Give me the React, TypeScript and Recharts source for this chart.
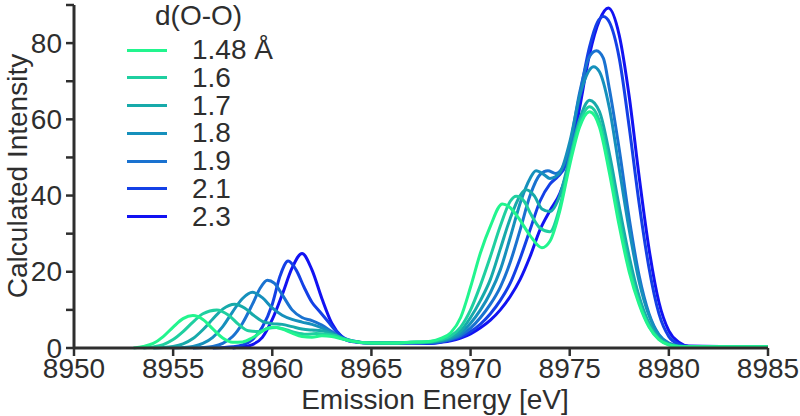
import React from 'react';
import { LineChart, Line, XAxis, YAxis, Legend } from 'recharts';

type Pt = [number, number];

const FONT = '"Liberation Sans", Arial, Helvetica, sans-serif';
const INK = '#2e2e2e';

// d(O-O) in Å
const labels = ['1.48 Å', '1.6', '1.7', '1.8', '1.9', '2.1', '2.3'];
const colors = ['#22F58E', '#1FCFA0', '#17AAAA', '#1690BC', '#1A72D0', '#1440E6', '#1212F2'];

// [energy eV, intensity]
const s148: Pt[] = [
  [8953, 0], [8953.5, 0.4], [8954, 1.2], [8954.5, 3], [8955, 5.5], [8955.5, 7.7], [8956, 8.5],
  [8956.5, 7.5], [8957, 5], [8957.5, 2.6], [8958, 1.5], [8958.5, 1.6], [8959, 2.7], [8959.5, 4.4],
  [8960, 5.5], [8960.5, 5], [8961, 3.9], [8961.5, 3], [8962, 2.8], [8962.5, 3.2], [8963, 3],
  [8963.5, 2.4], [8964, 1.8], [8965, 1.3], [8966, 1.3], [8967, 1.5], [8968, 1.8], [8968.5, 2.5],
  [8969, 4], [8969.5, 8], [8970, 16], [8970.5, 25], [8971, 32], [8971.6, 37.8], [8972, 36.8],
  [8972.5, 33.5], [8973, 29.5], [8973.6, 26.3], [8974, 28], [8974.5, 36], [8975, 48], [8975.5, 58],
  [8976, 62], [8976.5, 58], [8977, 46], [8977.5, 32], [8978, 20], [8978.5, 11.5], [8979, 5.5],
  [8979.5, 2.2], [8980, 0.8], [8980.5, 0.4], [8981, 0.3], [8985, 0.3],
];
const s16: Pt[] = [
  [8953.5, 0], [8954, 0.3], [8954.5, 0.9], [8955, 2.2], [8955.5, 4.3], [8956, 6.8], [8956.5, 9],
  [8957.2, 10], [8957.8, 8.6], [8958.3, 6.2], [8958.8, 4.5], [8959.3, 4.3], [8959.8, 5.2],
  [8960.2, 5.4], [8960.7, 4.8], [8961.2, 4], [8961.7, 3.6], [8962.2, 3.8], [8962.7, 3.7],
  [8963.2, 3.2], [8963.7, 2.3], [8964.2, 1.7], [8965, 1.3], [8966, 1.3], [8967, 1.5], [8968, 1.7],
  [8968.5, 2.2], [8969, 3.2], [8969.5, 5.5], [8970, 10], [8970.5, 16.5], [8971, 24], [8971.5, 32],
  [8972, 38.5], [8972.3, 39.8], [8972.7, 38.5], [8973, 35.5], [8973.5, 31.5], [8974, 30.5],
  [8974.5, 37], [8975, 49], [8975.5, 59], [8976, 63.3], [8976.5, 59.5], [8977, 48], [8977.5, 34],
  [8978, 21.5], [8978.5, 12], [8979, 5.7], [8979.5, 2.3], [8980, 0.9], [8980.5, 0.4], [8981, 0.3],
  [8985, 0.3],
];
const s17: Pt[] = [
  [8954, 0], [8954.5, 0.1], [8955, 0.4], [8955.5, 1.1], [8956, 2.5], [8956.5, 4.8], [8957, 7.6],
  [8957.5, 10.2], [8958.1, 11.5], [8958.6, 10.5], [8959, 8.8], [8959.5, 7], [8960, 6.4],
  [8960.5, 6.2], [8961, 5.6], [8961.5, 5], [8962, 4.7], [8962.5, 4.5], [8963, 3.7], [8963.5, 2.5],
  [8964, 1.8], [8965, 1.3], [8966, 1.3], [8967, 1.5], [8968, 1.6], [8968.5, 2], [8969, 2.8],
  [8969.5, 4.5], [8970, 8], [8970.5, 12.5], [8971, 18], [8971.5, 26], [8972, 34], [8972.5, 40],
  [8972.8, 41.5], [8973.2, 40], [8973.6, 36.5], [8974, 35.8], [8974.5, 40], [8975, 50],
  [8975.5, 60], [8976, 65], [8976.5, 62], [8977, 51], [8977.5, 37], [8978, 24], [8978.5, 13.5],
  [8979, 6.5], [8979.5, 2.6], [8980, 1], [8980.5, 0.4], [8981, 0.3], [8985, 0.3],
];
const s18: Pt[] = [
  [8955, 0], [8955.5, 0.1], [8956, 0.4], [8956.5, 1.2], [8957, 2.8], [8957.5, 5.6], [8958, 9.5],
  [8958.5, 13], [8959, 14.6], [8959.5, 13.2], [8960, 10.5], [8960.5, 8.6], [8961, 7.5],
  [8961.5, 6.8], [8962, 6.2], [8962.5, 5.3], [8963, 4], [8963.5, 2.6], [8964, 1.8], [8965, 1.3],
  [8966, 1.3], [8967, 1.4], [8968, 1.5], [8968.5, 1.8], [8969, 2.5], [8969.5, 3.8], [8970, 6.5],
  [8970.5, 10], [8971, 14.5], [8971.5, 20.5], [8972, 29], [8972.5, 38], [8973, 44.5],
  [8973.3, 46.5], [8973.7, 45.5], [8974, 44.5], [8974.5, 46], [8975, 54], [8975.5, 66], [8976, 73],
  [8976.2, 73.8], [8976.5, 72.5], [8977, 63], [8977.5, 47], [8978, 31], [8978.5, 17.5], [8979, 8.5],
  [8979.5, 3.3], [8980, 1.2], [8980.5, 0.5], [8981, 0.3], [8985, 0.3],
];
const s19: Pt[] = [
  [8956, 0], [8956.5, 0.1], [8957, 0.4], [8957.5, 1.2], [8958, 3], [8958.5, 6.5], [8959, 11.5],
  [8959.4, 15.8], [8959.75, 17.8], [8960.1, 17], [8960.5, 14], [8961, 10], [8961.5, 8], [8962, 7.2],
  [8962.5, 6], [8963, 4.3], [8963.5, 2.6], [8964, 1.8], [8965, 1.3], [8966, 1.3], [8967, 1.4],
  [8968, 1.4], [8968.5, 1.7], [8969, 2.3], [8969.5, 3.3], [8970, 5.2], [8970.5, 8], [8971, 11.5],
  [8971.5, 16], [8972, 22.5], [8972.5, 31], [8973, 40], [8973.5, 45.5], [8973.9, 46.5],
  [8974.3, 45.8], [8974.7, 48], [8975, 53], [8975.5, 67], [8976, 76.5], [8976.35, 78],
  [8976.7, 76], [8977, 68], [8977.5, 52], [8978, 34], [8978.5, 19], [8979, 9], [8979.5, 3.5],
  [8980, 1.3], [8980.5, 0.5], [8981, 0.3], [8985, 0.3],
];
const s21: Pt[] = [
  [8957, 0], [8958, 0.3], [8958.5, 0.8], [8959, 2.2], [8959.5, 5.5], [8960, 11.5], [8960.4, 19],
  [8960.8, 22.8], [8961.2, 20.5], [8961.6, 16], [8962, 12], [8962.4, 9.5], [8962.8, 7],
  [8963.2, 4.5], [8963.6, 2.7], [8964, 1.9], [8965, 1.3], [8966, 1.3], [8967, 1.3], [8968, 1.3],
  [8968.5, 1.6], [8969, 2.1], [8969.5, 2.9], [8970, 4.3], [8970.5, 6.3], [8971, 9], [8971.5, 12.5],
  [8972, 17], [8972.5, 23.5], [8973, 31], [8973.5, 38.5], [8974, 43], [8974.4, 45], [8974.8, 48],
  [8975, 52], [8975.5, 66], [8976, 79], [8976.4, 85.5], [8976.7, 87], [8977, 85.5], [8977.5, 76],
  [8978, 58], [8978.5, 38], [8979, 21], [8979.5, 9], [8980, 3], [8980.5, 1], [8981, 0.4],
  [8985, 0.3],
];
const s23: Pt[] = [
  [8958, 0], [8958.5, 0.3], [8959, 0.9], [8959.5, 2.8], [8960, 7.5], [8960.5, 14], [8961, 21],
  [8961.5, 24.8], [8962, 20.5], [8962.5, 13], [8963, 6.5], [8963.5, 3], [8964, 1.7], [8965, 1.3],
  [8966, 1.3], [8967, 1.3], [8968, 1.2], [8968.5, 1.5], [8969, 1.9], [8969.5, 2.6], [8970, 3.7],
  [8970.5, 5.3], [8971, 7.3], [8971.5, 10], [8972, 13.5], [8972.5, 18], [8973, 24], [8973.5, 31],
  [8974, 36], [8974.5, 40.5], [8975, 49], [8975.5, 63], [8976, 77], [8976.5, 86], [8976.95, 89.2],
  [8977.5, 82], [8978, 66], [8978.5, 45], [8979, 26], [8979.5, 12], [8980, 4.5], [8980.5, 1.5],
  [8981, 0.5], [8985, 0.3],
];

const seriesValues = [s148, s16, s17, s18, s19, s21, s23];
const xTicks = [8950, 8955, 8960, 8965, 8970, 8975, 8980, 8985];
const yTicks = [0, 10, 20, 30, 40, 50, 60, 70, 80, 90];

const series = labels.map((name, i) => ({
  name,
  color: colors[i],
  data: seriesValues[i].map(([x, y]) => ({ x, y })),
}));

const YTick = (props: any) => {
  const { x, y, payload } = props;
  if (payload.value % 20 !== 0) return <g />;
  return (
    <text x={x} y={y} dy="0.34em" textAnchor="end" fontSize={28} fill={INK} fontFamily={FONT}>
      {payload.value}
    </text>
  );
};

const XTitle = () => (
  <text x={435} y={409} textAnchor="middle" fontSize={28} fill={INK} fontFamily={FONT}>
    Emission Energy [eV]
  </text>
);

const YTitle = () => (
  <text
    x={27}
    y={176}
    transform="rotate(-90, 27, 176)"
    textAnchor="middle"
    fontSize={28}
    fill={INK}
    fontFamily={FONT}
  >
    Calculated Intensity
  </text>
);

const renderLegend = () => (
  <div style={{ position: 'relative', width: 800, height: 416, fontFamily: FONT, fontSize: 28, color: INK }}>
    <div style={{ position: 'absolute', left: 155, top: 2, lineHeight: '28px' }}>d(O-O)</div>
    {series.map((s, i) => {
      const cy = 50 + i * 27.75;
      return (
        <div key={s.name} style={{ position: 'absolute', left: 127, top: cy - 14, height: 28, lineHeight: '28px' }}>
          <span
            style={{
              position: 'absolute',
              left: 0,
              top: 12.5,
              width: 40,
              height: 3,
              background: s.color,
            }}
          />
          <span style={{ position: 'absolute', left: 65, top: 0, whiteSpace: 'nowrap' }}>{s.name}</span>
        </div>
      );
    })}
  </div>
);

export default function App() {
  return (
    <div style={{ position: 'absolute', left: 0, top: 0, background: '#fff' }}>
      <LineChart width={800} height={416} margin={{ top: 5, right: 32, left: 0, bottom: 0 }}>
        <XAxis
          type="number"
          dataKey="x"
          domain={[8950, 8985]}
          ticks={xTicks}
          allowDataOverflow
          height={68}
          tickSize={8}
          tickMargin={2}
          axisLine={{ stroke: INK, strokeWidth: 3 }}
          tickLine={{ stroke: INK, strokeWidth: 2.5 }}
          tick={{ fontSize: 28, fill: INK, fontFamily: FONT }}
          label={<XTitle />}
        />
        <YAxis
          type="number"
          domain={[0, 90]}
          ticks={yTicks}
          width={74}
          tickSize={8}
          tickMargin={4}
          axisLine={{ stroke: INK, strokeWidth: 3 }}
          tickLine={{ stroke: INK, strokeWidth: 2.5 }}
          tick={<YTick />}
          label={<YTitle />}
        />
        <Legend
          layout="vertical"
          align="center"
          verticalAlign="middle"
          wrapperStyle={{ left: 0, top: 0, width: 800, height: 416 }}
          content={renderLegend}
        />
        {[...series].reverse().map((s) => (
          <Line
            key={s.name}
            data={s.data}
            dataKey="y"
            name={s.name}
            type="monotone"
            stroke={s.color}
            strokeWidth={3}
            dot={false}
            isAnimationActive={false}
          />
        ))}
      </LineChart>
    </div>
  );
}
